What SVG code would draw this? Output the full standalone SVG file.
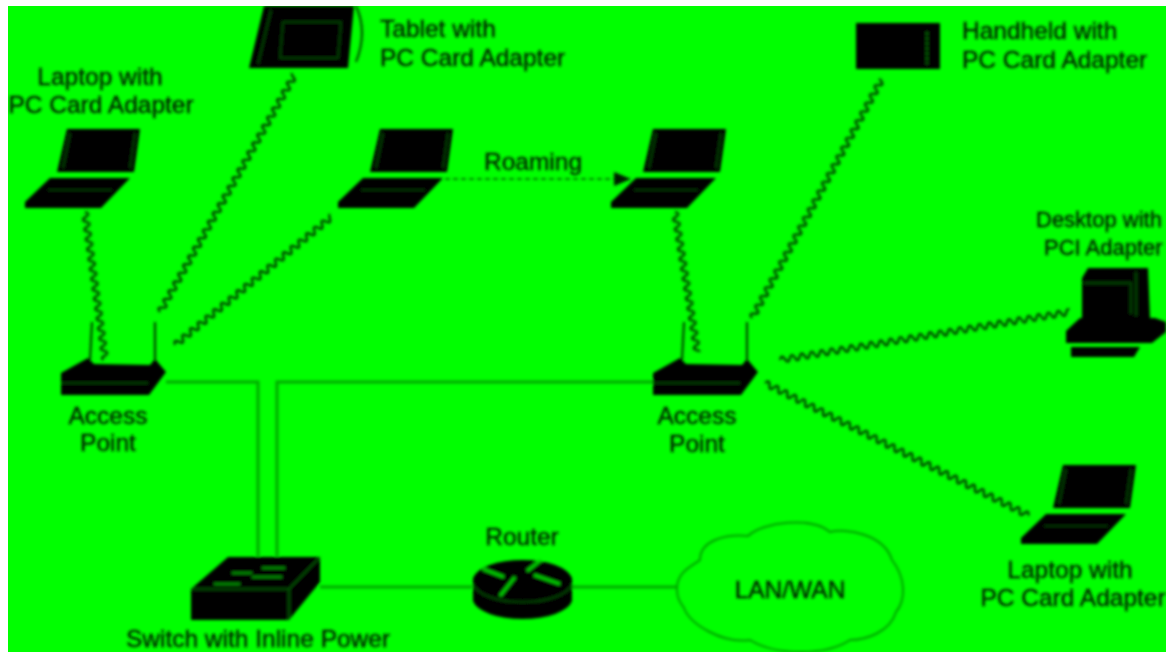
<svg xmlns="http://www.w3.org/2000/svg" width="1166" height="652" viewBox="0 0 1166 652">
<style>
text{font-family:"Liberation Sans",Arial,sans-serif;font-size:24.5px;fill:#001a00;stroke:#001a00;stroke-width:.3}
.m{text-anchor:middle}
.s{font-size:22px}
.wire{fill:none;stroke:#00a800;stroke-width:3}
.sq{fill:none;stroke:#003000;stroke-width:2.2}
.k{fill:#000}
.in{fill:none;stroke:#005000;stroke-width:1.4}
.hi{fill:none;stroke:#00d000;stroke-width:3}
</style>
<defs>
<filter id="b" x="-2%" y="-2%" width="104%" height="104%"><feGaussianBlur stdDeviation="1.35"/></filter>
<clipPath id="c"><rect x="8" y="6" width="1158" height="646"/></clipPath>
<marker id="ah" markerWidth="18" markerHeight="14" refX="16" refY="7" orient="auto" markerUnits="userSpaceOnUse"><path d="M0 0L17 7L0 14z" fill="#001a00"/></marker>
<path id="sq" class="sq" d="M0 0q2.5 -6 5 0t5 0t5 0t5 0t5 0t5 0t5 0t5 0t5 0t5 0t5 0t5 0t5 0t5 0t5 0t5 0t5 0t5 0t5 0t5 0t5 0t5 0t5 0t5 0t5 0t5 0t5 0t5 0t5 0t5 0t5 0t5 0t5 0t5 0t5 0t5 0t5 0t5 0t5 0t5 0t5 0t5 0t5 0t5 0t5 0t5 0t5 0t5 0t5 0t5 0t5 0t5 0t5 0t5 0t5 0t5 0t5 0t5 0t5 0"/>
<g id="lap">
<path class="k" d="M67 129H140L134 172H57Z"/>
<path class="in" d="M70 133L63 168M135 133L130 168"/>
<path class="k" d="M50 178H130L101 208H25V202Z"/>
<path d="M48 190H112" stroke="#004000" stroke-width="1.5" fill="none"/>
</g>
<g id="ap">
<path class="k" d="M61 373L88 358L94 364L150 365L155 359L166 372L149 395H61Z"/>
<path d="M61 383H148" stroke="#005000" stroke-width="1.6"/>
<path d="M92 322L90 360M155 322V360" stroke="#003000" stroke-width="2" fill="none"/>
</g>
</defs>
<rect width="1166" height="652" fill="#fff"/>
<rect x="8" y="6" width="1158" height="646" fill="#00ff00"/>
<g clip-path="url(#c)"><g filter="url(#b)">
<g id="connectors">
<path class="wire" d="M166 382H258V556M277 556V382H654M320 587H472M572 587H677"/>
<use href="#sq" transform="translate(85 212) rotate(82.2)" stroke-dasharray="240 9999"/>
<use href="#sq" transform="translate(160 312) rotate(-60.4)" stroke-dasharray="440 9999"/>
<use href="#sq" transform="translate(175 345) rotate(-39.3)" stroke-dasharray="327 9999"/>
<use href="#sq" transform="translate(675 212) rotate(80.9)" stroke-dasharray="229 9999"/>
<use href="#sq" transform="translate(752 318) rotate(-61.5)" stroke-dasharray="438 9999"/>
<use href="#sq" transform="translate(780 360) rotate(-9.4)" stroke-dasharray="473 9999"/>
<use href="#sq" transform="translate(765 383) rotate(26.7)" stroke-dasharray="481 9999"/>
<path d="M445 179H630" fill="none" stroke="#006000" stroke-width="1.6" stroke-dasharray="5 3" marker-end="url(#ah)"/>
</g>
<g id="laptop1"><use href="#lap"/><text class="m" x="100" y="85">Laptop with</text><text class="m" x="101" y="113">PC Card Adapter</text></g>
<g id="tablet">
<path class="k" d="M264 6H354L348 68H249Z"/>
<path class="in" d="M283 22H341L338 58H280ZM271 10L258 64"/>
<path d="M356 6Q368 32 356 62" fill="none" stroke="#004000" stroke-width="2"/>
<text x="380" y="37">Tablet with</text><text x="380" y="66">PC Card Adapter</text>
</g>
<g id="laptop2"><use href="#lap" transform="translate(313 0)"/></g>
<g id="laptop3"><use href="#lap" transform="translate(586 0)"/></g>
<text x="484" y="170">Roaming</text>
<g id="handheld">
<rect class="k" x="856" y="23" width="84" height="46"/>
<path d="M927 32V64" stroke="#006000" stroke-width="3" stroke-dasharray="3 2"/>
<text x="962" y="39">Handheld with</text><text x="962" y="68">PC Card Adapter</text>
</g>
<g id="desktop">
<path class="k" d="M1088 268H1148L1150 318H1082V278Z"/>
<path d="M1084 283H1131V314M1136 272V316" fill="none" stroke="#004000" stroke-width="2.4"/>
<path class="k" d="M1080 318H1155L1166 322V332L1152 343H1066V331Z"/>
<path class="k" d="M1071 347H1140L1134 357H1071Z"/>
<text class="s" x="1036" y="227">Desktop with</text><text class="s" x="1044" y="255">PCI Adapter</text>
</g>
<g id="ap1"><use href="#ap"/><text class="m" x="108" y="424">Access</text><text class="m" x="108" y="451">Point</text></g>
<g id="ap2"><use href="#ap" transform="translate(592 0)"/><text class="m" x="697" y="424">Access</text><text class="m" x="697" y="452">Point</text></g>
<g id="laptop4"><use href="#lap" transform="translate(996 336)"/><text class="m" x="1070" y="578">Laptop with</text><text class="m" x="1073" y="606">PC Card Adapter</text></g>
<g id="switch">
<path class="k" d="M228 557H320V582L289 620H191V589Z"/>
<path d="M191 589H289L320 557M289 589V620" fill="none" stroke="#006000" stroke-width="1.6"/>
<path d="M232 573H252M262 568H285M214 584H240M252 577H282" stroke="#009000" stroke-width="2.4" fill="none"/>
<text class="m" x="258" y="647">Switch with Inline Power</text>
</g>
<g id="router">
<path class="k" d="M473 578A50 21 0 0 1 572 578V601A50 21 0 0 1 473 601Z"/>
<path d="M473 584A50 21 0 0 0 572 584" fill="none" stroke="#005000" stroke-width="1.6"/>
<path class="hi" d="M483 569L504 577M541 560L527 571M534 575L560 584M515 577L500 596"/>
<text class="m" x="522" y="545">Router</text>
</g>
<g id="cloud">
<path d="M677 590C676 572 692 566 700 560C700 540 726 534 748 536C762 522 812 516 830 532C846 528 884 534 892 560C906 578 906 600 896 612C890 632 866 640 850 640C826 656 776 656 750 640C722 644 690 624 684 608C680 602 677 598 677 590Z" fill="none" stroke="#00a000" stroke-width="2"/>
<text class="m" x="790" y="598">LAN/WAN</text>
</g>
</g></g>
</svg>
